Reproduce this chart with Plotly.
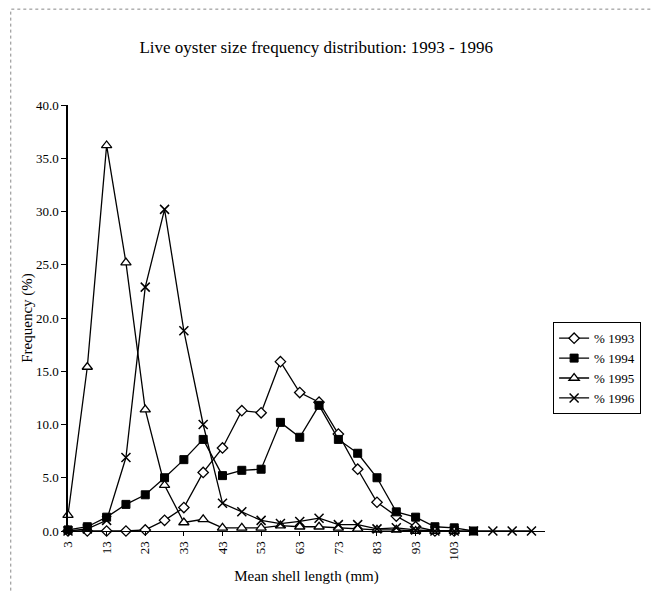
import plotly.graph_objects as go

# mean shell length classes (mm)
lengths = [3, 8, 13, 18, 23, 28, 33, 38, 43, 48, 53, 58, 63, 68, 73, 78, 83, 88, 93, 98, 103, 108, 113, 118, 123]
tick_lengths = [3, 13, 23, 33, 43, 53, 63, 73, 83, 93, 103]

pct_1993 = [0.0, 0.0, 0.0, 0.0, 0.1, 1.0, 2.2, 5.5, 7.8, 11.3, 11.1, 15.9, 13.0, 12.1, 9.1, 5.8, 2.7, 1.4, 0.4, 0.0, 0.0]
pct_1994 = [0.1, 0.4, 1.3, 2.5, 3.4, 5.0, 6.7, 8.6, 5.2, 5.7, 5.8, 10.2, 8.8, 11.8, 8.6, 7.3, 5.0, 1.8, 1.3, 0.4, 0.3, 0.0]
pct_1995 = [1.5, 15.4, 36.2, 25.2, 11.4, 4.3, 0.8, 1.1, 0.3, 0.3, 0.3, 0.5, 0.4, 0.4, 0.3, 0.2, 0.1, 0.1, 0.0, 0.0, 0.0]
pct_1996 = [0.0, 0.2, 1.0, 6.9, 22.9, 30.2, 18.8, 10.0, 2.6, 1.8, 1.0, 0.7, 0.9, 1.2, 0.6, 0.6, 0.2, 0.3, 0.1, 0.0, 0.0, 0.0, 0.0, 0.0, 0.0]

FONT = "Liberation Serif, Times New Roman, serif"

series = [
    ("% 1993", pct_1993, dict(symbol="diamond", size=8, color="white", line=dict(color="black", width=1.3))),
    ("% 1994", pct_1994, dict(symbol="square", size=8, color="black", line=dict(color="black", width=1))),
    ("% 1995", pct_1995, dict(symbol="triangle-up", size=9, color="white", line=dict(color="black", width=1.3))),
    ("% 1996", pct_1996, dict(symbol="x-thin", size=9, color="black", line=dict(color="black", width=1.5))),
]

fig = go.Figure()
for name, vals, mk in series:
    fig.add_trace(go.Scatter(
        x=lengths[:len(vals)], y=vals, name=name, mode="lines+markers",
        line=dict(color="black", width=1.3), marker=mk, cliponaxis=False,
    ))

fig.update_layout(
    width=652, height=592,
    paper_bgcolor="white", plot_bgcolor="white",
    margin=dict(l=68, r=107, t=105, b=61, autoexpand=False),
    font=dict(family=FONT, size=13, color="black"),
    title=dict(text="Live oyster size frequency distribution: 1993 - 1996",
               x=0.485, xanchor="center", y=0.92, yanchor="middle",
               font=dict(family=FONT, size=17, color="black")),
    showlegend=True,
    legend=dict(x=1.017, y=0.49, xanchor="left", yanchor="top",
                bordercolor="black", borderwidth=1, bgcolor="white",
                font=dict(family=FONT, size=13), tracegroupgap=0,
                itemwidth=30),
    shapes=[dict(type="rect", xref="paper", yref="paper",
                 x0=-0.12, x1=1.36, y0=-0.145, y1=1.225,
                 line=dict(color="#888888", width=1, dash="dot"))],
)

fig.update_xaxes(
    range=[3, 126.5], tickmode="array", tickvals=tick_lengths,
    ticktext=[str(v) for v in tick_lengths], tickangle=-90, automargin=False,
    showgrid=False, zeroline=False, showline=True, linecolor="black", linewidth=1,
    ticks="outside", ticklen=4, tickcolor="black",
    title=dict(text="Mean shell length (mm)", font=dict(family=FONT, size=15), standoff=10),
    tickfont=dict(family=FONT, size=13),
)
fig.update_yaxes(
    range=[0, 40], dtick=5, tickformat=".1f", automargin=False,
    showgrid=False, zeroline=False, showline=True, linecolor="black", linewidth=1.5,
    ticks="outside", ticklen=5, tickcolor="black",
    title=dict(text="Frequency (%)", font=dict(family=FONT, size=15), standoff=0),
    tickfont=dict(family=FONT, size=13),
)

# drop the page's default body margin so the figure sits at the window origin
fig.write_html("out.html", config={"displayModeBar": False},
               post_script="document.body.style.margin='0';")
